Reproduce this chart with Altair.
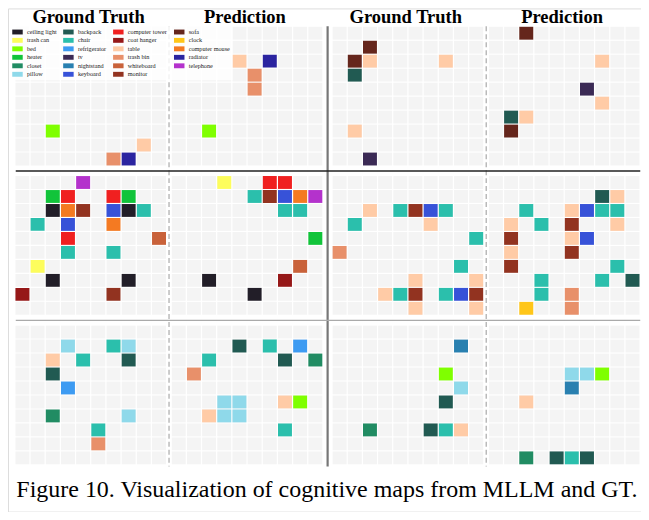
import altair as alt
import pandas as pd

# ---- categories & colours (legend order, column by column) ----
CATEGORIES = ["ceiling light", "trash can", "bed", "heater", "closet", "pillow",
              "backpack", "chair", "refrigerator", "tv", "nightstand", "keyboard",
              "computer tower", "coat hanger", "table", "trash bin", "whiteboard", "monitor",
              "sofa", "clock", "computer mouse", "radiator", "telephone"]
COLORS = ["#221e28", "#fdfd5c", "#7fff00", "#11c43a", "#218c63", "#8fd9ea",
          "#215a52", "#2bbfac", "#3d9bf2", "#3b2a55", "#2980b0", "#3752d8",
          "#f02020", "#961818", "#ffcba6", "#e8906a", "#c9623a", "#923320",
          "#65261c", "#ffc619", "#f47a22", "#2b24a0", "#b432cc"]

TITLES = ["Ground Truth", "Prediction", "Ground Truth", "Prediction"]
CAPTION = "Figure 10. Visualization of cognitive maps from MLLM and GT."

# ---- cells per panel: (row, col, object) ----
R1_GT1 = [(7, 2, "bed"), (8, 8, "table"), (9, 6, "trash bin"), (9, 7, "radiator")]
R1_PR1 = [(2, 4, "table"), (2, 6, "radiator"), (3, 5, "trash bin"), (4, 5, "trash bin"), (7, 2, "bed")]
R1_GT2 = [(1, 2, "sofa"), (2, 1, "sofa"), (2, 2, "table"), (2, 7, "table"), (3, 1, "backpack"),
          (7, 1, "table"), (9, 2, "tv")]
R1_PR2 = [(0, 2, "sofa"), (2, 7, "table"), (4, 6, "tv"), (5, 7, "table"), (6, 1, "backpack"),
          (6, 2, "table"), (7, 1, "sofa")]

R2_GT1 = [(0, 4, "telephone"),
          (1, 2, "heater"), (1, 3, "computer tower"), (1, 6, "computer tower"), (1, 7, "heater"),
          (2, 2, "ceiling light"), (2, 3, "computer mouse"), (2, 4, "monitor"), (2, 6, "keyboard"),
          (2, 7, "ceiling light"), (2, 8, "chair"),
          (3, 1, "chair"), (3, 3, "keyboard"), (3, 6, "computer mouse"),
          (4, 3, "computer tower"), (4, 9, "whiteboard"),
          (5, 3, "chair"), (5, 6, "chair"),
          (6, 1, "trash can"),
          (7, 2, "ceiling light"), (7, 7, "ceiling light"),
          (8, 0, "coat hanger"), (8, 6, "monitor")]
R2_PR1 = [(0, 3, "trash can"), (0, 6, "computer tower"), (0, 7, "computer tower"),
          (1, 5, "chair"), (1, 6, "monitor"), (1, 7, "keyboard"), (1, 8, "computer mouse"), (1, 9, "telephone"),
          (2, 7, "chair"), (2, 8, "chair"),
          (4, 9, "heater"), (6, 8, "whiteboard"),
          (7, 2, "ceiling light"), (7, 7, "coat hanger"), (8, 5, "ceiling light")]
R2_GT2 = [(2, 2, "table"), (2, 4, "chair"), (2, 5, "monitor"), (2, 6, "keyboard"), (2, 7, "chair"),
          (3, 1, "chair"), (3, 6, "table"), (4, 9, "chair"), (5, 0, "trash bin"), (6, 8, "chair"),
          (7, 5, "table"), (7, 9, "table"),
          (8, 3, "table"), (8, 4, "chair"), (8, 5, "monitor"), (8, 7, "chair"), (8, 8, "keyboard"),
          (8, 9, "monitor"),
          (9, 5, "table"), (9, 9, "table")]
R2_PR2 = [(1, 7, "backpack"), (1, 8, "table"),
          (2, 2, "chair"), (2, 5, "table"), (2, 6, "keyboard"), (2, 7, "chair"), (2, 8, "chair"),
          (3, 1, "table"), (3, 3, "chair"), (3, 5, "monitor"), (3, 8, "table"),
          (4, 1, "monitor"), (4, 5, "table"), (4, 6, "keyboard"),
          (5, 1, "table"), (5, 5, "monitor"),
          (6, 1, "monitor"), (6, 8, "chair"),
          (7, 3, "chair"), (7, 7, "chair"), (7, 9, "backpack"),
          (8, 3, "chair"), (8, 5, "trash bin"),
          (9, 2, "clock"), (9, 5, "trash bin")]

R3_GT1 = [(1, 3, "pillow"), (1, 6, "chair"), (1, 7, "pillow"),
          (2, 2, "table"), (2, 4, "chair"), (2, 7, "backpack"),
          (3, 2, "backpack"), (4, 3, "refrigerator"),
          (6, 2, "closet"), (6, 7, "pillow"), (7, 5, "chair"), (8, 5, "trash bin")]
R3_PR1 = [(1, 4, "backpack"), (1, 6, "chair"), (1, 8, "refrigerator"),
          (2, 2, "chair"), (2, 7, "backpack"), (2, 9, "closet"),
          (3, 1, "trash bin"),
          (5, 3, "pillow"), (5, 4, "pillow"), (5, 7, "table"), (5, 8, "bed"),
          (6, 2, "table"), (6, 3, "pillow"), (6, 4, "pillow"), (7, 7, "chair")]
R3_GT2 = [(1, 8, "nightstand"), (3, 7, "bed"), (4, 8, "pillow"), (5, 7, "backpack"),
          (7, 2, "closet"), (7, 6, "backpack"), (7, 7, "chair"), (7, 8, "table")]
R3_PR2 = [(3, 5, "pillow"), (3, 6, "pillow"), (3, 7, "bed"), (4, 5, "nightstand"), (5, 2, "table"),
          (9, 2, "closet"), (9, 4, "backpack"), (9, 5, "chair"), (9, 6, "backpack")]

PANELS = [[R1_GT1, R1_PR1, R1_GT2, R1_PR2],
          [R2_GT1, R2_PR1, R2_GT2, R2_PR2],
          [R3_GT1, R3_PR1, R3_GT2, R3_PR2]]

# ---- layout (grid units) ----
PX = [0.0, 10.3, 20.9, 31.2]
PY = [0.0, 10.68, 21.38]
N = 10
W, H = 634, 504
PITCH_X, PITCH_Y = 15.2, 14.0
X0, Y0 = 7.0, 18.0
xs = alt.Scale(domain=[-X0 / PITCH_X, (W - X0) / PITCH_X], zero=False, nice=False)
ys = alt.Scale(domain=[-Y0 / PITCH_Y, (H - Y0) / PITCH_Y], zero=False, nice=False, reverse=True)
G0, G1 = 0.03, 0.95

bg_rows = []
for pr in range(3):
    for pc in range(4):
        for r in range(N):
            for c in range(N):
                bg_rows.append({"x0": PX[pc] + c + G0, "x1": PX[pc] + c + G1,
                                "y0": PY[pr] + r + G0, "y1": PY[pr] + r + G1})
bg = pd.DataFrame(bg_rows)

cell_rows = []
for pr in range(3):
    for pc in range(4):
        for (r, c, o) in PANELS[pr][pc]:
            cell_rows.append({"x0": PX[pc] + c + G0, "x1": PX[pc] + c + G1,
                              "y0": PY[pr] + r + G0, "y1": PY[pr] + r + G1, "obj": o})
cells = pd.DataFrame(cell_rows)

bg_layer = alt.Chart(bg).mark_rect(color="#f4f4f4").encode(
    x=alt.X("x0:Q", scale=xs, axis=None), x2="x1:Q",
    y=alt.Y("y0:Q", scale=ys, axis=None), y2="y1:Q")

cell_layer = alt.Chart(cells).mark_rect(opacity=1).encode(
    x=alt.X("x0:Q", scale=xs, axis=None), x2="x1:Q",
    y=alt.Y("y0:Q", scale=ys, axis=None), y2="y1:Q",
    color=alt.Color("obj:N", scale=alt.Scale(domain=CATEGORIES, range=COLORS),
                    legend=alt.Legend(title=None, orient="none", legendX=4, legendY=18,
                                      columns=4, padding=2,
                                      fillColor="rgba(255,255,255,0.82)",
                                      symbolType="M-1.5,-0.7H1.5V0.7H-1.5Z", symbolSize=49,
                                      symbolStrokeWidth=0, symbolOpacity=1,
                                      labelFont="Liberation Serif", labelFontSize=6.2,
                                      labelColor="#222", labelOffset=6, labelLimit=200,
                                      rowPadding=1.5, columnPadding=6)))

# separators
xm1 = (PX[0] + N + PX[1]) / 2
xm2 = (PX[1] + N + PX[2]) / 2
xm3 = (PX[2] + N + PX[3]) / 2
ym1 = (PY[0] + N + PY[1]) / 2
ym2 = (PY[1] + N + PY[2]) / 2
ybot = PY[2] + N + 0.1
xend = PX[3] + N

dash_df = pd.DataFrame({"x": [xm1, xm3], "y": [0.0, 0.0], "y2": [ybot, ybot]})
solid_df = pd.DataFrame({"x": [xm2], "y": [0.0], "y2": [ybot]})
h1_df = pd.DataFrame({"x": [0.05], "x2": [xend], "y": [ym1]})
h2_df = pd.DataFrame({"x": [0.05], "x2": [xend], "y": [ym2]})

dash_layer = alt.Chart(dash_df).mark_rule(color="#aaaaaa", strokeWidth=1.2, strokeDash=[5, 3]).encode(
    x=alt.X("x:Q", scale=xs), y=alt.Y("y:Q", scale=ys), y2="y2:Q")
solid_layer = alt.Chart(solid_df).mark_rule(color="#777777", strokeWidth=2.2).encode(
    x=alt.X("x:Q", scale=xs), y=alt.Y("y:Q", scale=ys), y2="y2:Q")
h1_layer = alt.Chart(h1_df).mark_rule(color="#222222", strokeWidth=1.5).encode(
    x=alt.X("x:Q", scale=xs), x2="x2:Q", y=alt.Y("y:Q", scale=ys))
h2_layer = alt.Chart(h2_df).mark_rule(color="#aaaaaa", strokeWidth=1.2).encode(
    x=alt.X("x:Q", scale=xs), x2="x2:Q", y=alt.Y("y:Q", scale=ys))

title_df = pd.DataFrame({"t": TITLES, "x": [PX[i] + N / 2 - 0.15 for i in range(4)],
                         "y": [-0.24] * 4})
title_layer = alt.Chart(title_df).mark_text(font="Liberation Serif", fontSize=18.5, fontWeight="bold",
                                            color="#000", baseline="alphabetic", align="center").encode(
    x=alt.X("x:Q", scale=xs), y=alt.Y("y:Q", scale=ys), text="t:N")

cap_df = pd.DataFrame({"t": [CAPTION], "x": [20.55], "y": [33.7]})
cap_layer = alt.Chart(cap_df).mark_text(font="Liberation Serif", fontSize=24, color="#000",
                                        baseline="alphabetic", align="center").encode(
    x=alt.X("x:Q", scale=xs), y=alt.Y("y:Q", scale=ys), text="t:N")

chart = alt.layer(bg_layer, cell_layer, dash_layer, solid_layer, h1_layer, h2_layer,
                  title_layer, cap_layer).properties(
    width=W, height=H, autosize=alt.AutoSizeParams(type="none"), padding=0
).configure_view(stroke=None).configure(background="white")

chart.save("out.html", embed_options={"renderer": "svg", "actions": False})
